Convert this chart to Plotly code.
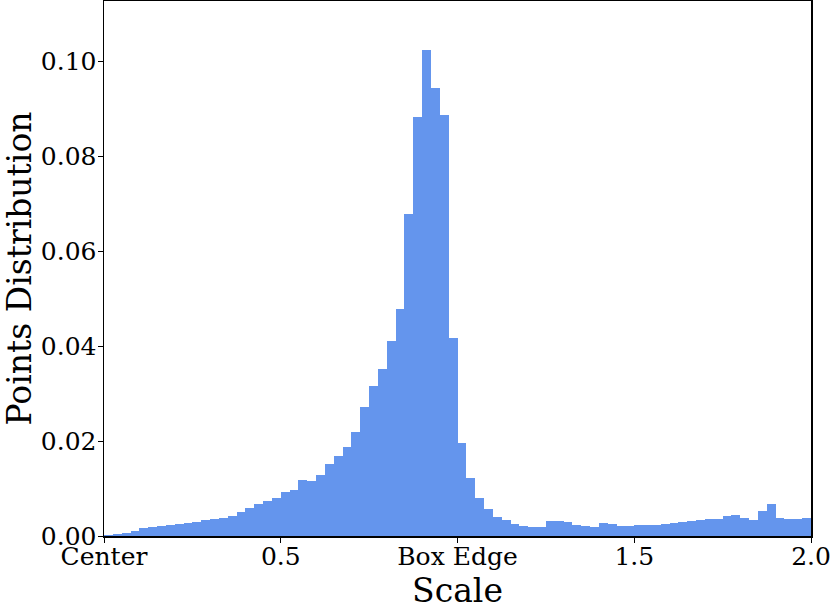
import numpy as np
import plotly.graph_objects as go

# Histogram data: 80 bins of width 0.025 from 0 to 2.0
bin_start = 0.0
bin_width = 0.025
values = [
    0.00025, 0.00046, 0.00073, 0.00115, 0.0016, 0.0019, 0.0021, 0.0023, 0.0025, 0.0027,
    0.0030, 0.0034, 0.0035, 0.0038, 0.0042, 0.0050, 0.0060, 0.0068, 0.0073, 0.0081,
    0.0092, 0.0098, 0.0118, 0.0116, 0.0128, 0.0151, 0.0168, 0.0187, 0.0220, 0.0272,
    0.0317, 0.0353, 0.0410, 0.0479, 0.0679, 0.0883, 0.1025, 0.0945, 0.0887, 0.0417,
    0.0197, 0.0123, 0.0081, 0.0057, 0.0040, 0.0033, 0.0025, 0.0021, 0.0019, 0.0019,
    0.0031, 0.0031, 0.0030, 0.0024, 0.0021, 0.0019, 0.0028, 0.0026, 0.0022, 0.0021,
    0.0023, 0.0024, 0.0023, 0.0025, 0.0027, 0.0030, 0.0031, 0.0034, 0.0035, 0.0035,
    0.0042, 0.0045, 0.0038, 0.0034, 0.0053, 0.0067, 0.0038, 0.0036, 0.0036, 0.0037,
]
x_tickvals = [0, 0.5, 1.0, 1.5, 2.0]
x_ticktext = ["Center", "0.5", "Box Edge", "1.5", "2.0"]
y_tickvals = [0.0, 0.02, 0.04, 0.06, 0.08, 0.10]

centers = bin_start + bin_width * (np.arange(len(values)) + 0.5)

fig = go.Figure(go.Bar(
    x=centers, y=values, width=bin_width,
    marker=dict(color="#6495ED", line=dict(width=0)),
))

font_family = "DejaVu Serif"
fig.update_layout(
    width=831, height=610,
    margin=dict(l=104, r=20, t=1, b=74, autoexpand=False),
    plot_bgcolor="white", paper_bgcolor="white",
    bargap=0, showlegend=False,
    font=dict(family=font_family, color="black"),
)
fig.update_xaxes(
    range=[0, 2.0], tickvals=x_tickvals, ticktext=x_ticktext,
    ticks="outside", ticklen=5, tickwidth=1, tickcolor="black",
    showline=True, linecolor="black", linewidth=1.5, mirror=True,
    showgrid=False, zeroline=False, automargin=False,
    ticklabelstandoff=-8,
    tickfont=dict(size=25, family=font_family),
    title=dict(text="Scale", font=dict(size=33, family=font_family), standoff=14),
)
fig.update_yaxes(
    range=[0, max(values) * 1.1], tickvals=y_tickvals, tickformat=".2f",
    ticks="outside", ticklen=5, tickwidth=1, tickcolor="black",
    showline=True, linecolor="black", linewidth=1.5, mirror=True,
    showgrid=False, zeroline=False, automargin=False,
    ticklabelstandoff=-4,
    tickfont=dict(size=25, family=font_family),
    title=dict(text="Points Distribution", font=dict(size=33, family=font_family), standoff=10),
)

fig.write_html(
    "out.html",
    config={"displayModeBar": False, "staticPlot": True},
    post_script="document.body.style.margin='0';",
)
